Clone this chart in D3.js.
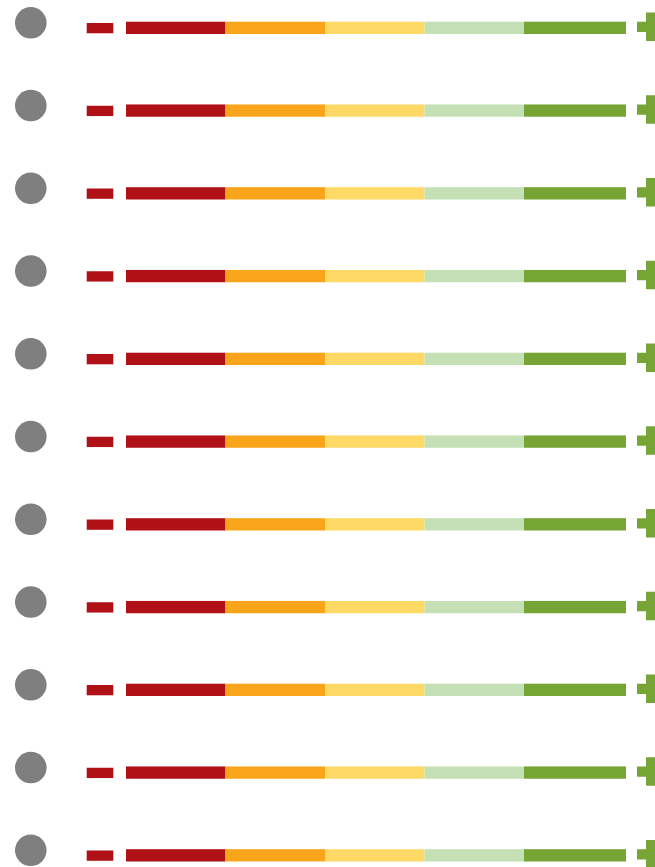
<!DOCTYPE html>
<html>
<head>
<meta charset="utf-8">
<script src="https://cdn.jsdelivr.net/npm/d3@7"></script>
<style>
  body { margin: 0; background: #fff; }
  svg { display: block; }
</style>
</head>
<body>
<script>
// rows of the scorecard, all the same band layout
const rows = ["1", "2", "3", "4", "5", "6", "7", "8", "9", "10", "11"];
const bandEdges = [0, 19.9, 39.8, 59.7, 79.6, 100];
const bandColors = ["#B01117", "#F9A51B", "#FED966", "#C5E0B4", "#76A535"];
const statusColor = "#7F7F7F";
const minusColor = "#B01117";
const plusColor = "#76A535";

const w = 655, h = 867;
const svg = d3.select("body").append("svg").attr("width", w).attr("height", h);

const y = d3.scalePoint().domain(rows).range([22.8, 850.3]);
const x = d3.scaleLinear().domain([0, 100]).range([126, 626]);

const segs = bandColors.map((c, i) => ({ a: bandEdges[i], b: bandEdges[i + 1], c }));

const row = svg.selectAll("g.row").data(rows).enter()
  .append("g").attr("class", "row")
  .attr("transform", d => `translate(0,${y(d)})`);

// status dot
row.append("circle")
  .attr("cx", 30.8).attr("cy", 0).attr("r", 15.8)
  .attr("fill", statusColor);

// minus sign
row.append("rect")
  .attr("x", 86.7).attr("y", 0.2).attr("width", 26.6).attr("height", 10.3)
  .attr("fill", minusColor);

// colour bands
row.selectAll("rect.seg").data(segs).enter()
  .append("rect").attr("class", "seg")
  .attr("x", d => x(d.a)).attr("y", -1.1)
  .attr("width", d => x(d.b) - x(d.a)).attr("height", 12.3)
  .attr("fill", d => d.c);

// plus sign (cut by the right edge)
const cx = 651.2, cy = 4, L = 14.2, t = 5.15;
row.append("path")
  .attr("d", `M${cx - L},${cy - t}H${cx - t}V${cy - L}H${cx + t}V${cy - t}H${cx + L}V${cy + t}H${cx + t}V${cy + L}H${cx - t}V${cy + t}H${cx - L}Z`)
  .attr("fill", plusColor);
</script>
</body>
</html>
